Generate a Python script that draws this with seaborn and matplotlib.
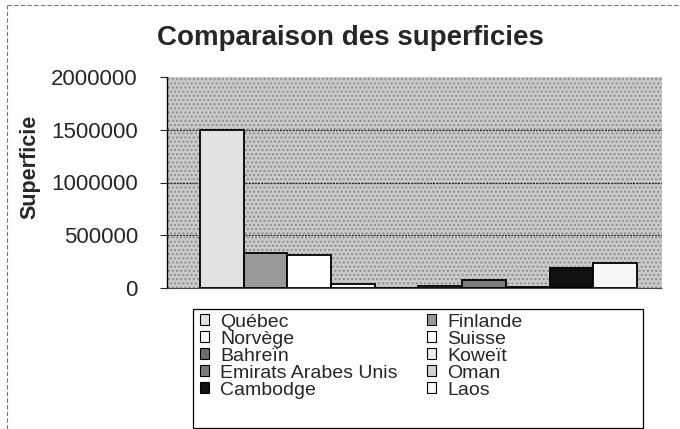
import pandas as pd
import numpy as np
import matplotlib.pyplot as plt
import seaborn as sns
from matplotlib.patches import Rectangle, Patch
from matplotlib.lines import Line2D

# data (km2)
pays = ["Québec", "Finlande", "Norvège", "Suisse", "Bahreïn",
        "Koweït", "Emirats Arabes Unis", "Oman", "Cambodge", "Laos"]
superficie = [1500000, 335000, 315000, 38000, 700,
              17800, 75000, 12000, 185000, 240000]
couleurs = ["#e2e2e2", "#9a9a9a", "#ffffff", "#ffffff", "#6e6e6e",
            "#ececec", "#7c7c7c", "#d2d2d2", "#111111", "#f6f6f6"]
yticks = [0, 500000, 1000000, 1500000, 2000000]

dataset = pd.DataFrame({"pays": pays, "superficie": superficie})

sns.set_style("white")
plt.rcParams['font.family'] = ['Liberation Sans', 'DejaVu Sans']

fig = plt.figure(figsize=(6.8, 4.29), dpi=100)
W, H = 680, 429
ax = fig.add_axes([167 / W, 1 - 288 / H, (662 - 167) / W, (288 - 77) / H])

# dotted grey plot area
ax.set_facecolor("#cacaca")
ax.add_patch(Rectangle((0, 0), 1, 1, transform=ax.transAxes, facecolor="none",
                       edgecolor="#8e8e8e", hatch="....", lw=0, zorder=0))

sns.barplot(data=dataset, x="pays", y="superficie", hue="pays",
            palette=dict(zip(pays, couleurs)), order=pays, width=1,
            edgecolor="black", linewidth=1.3, legend=False, ax=ax, zorder=3)

ax.set_xlim(-1.25, 10.07)
ax.set_ylim(0, 2000000)
ax.set_yticks(yticks)
ax.set_yticklabels([str(v) for v in yticks], fontsize=16)
ax.tick_params(axis="y", direction="out", length=5, width=0.8, pad=16, left=True)
ax.set_xticks([])
ax.set_xlabel("")
ax.set_ylabel("Superficie", fontsize=15.5, fontweight="bold")
ax.yaxis.set_label_coords(-0.255, 0.573)

for v in yticks[1:-1]:
    ax.axhline(v, color="#222222", lw=0.9, ls=(0, (1.5, 1)), zorder=1)

for s in ["top", "right"]:
    ax.spines[s].set_visible(False)
ax.spines["left"].set_color("black")
ax.spines["left"].set_linewidth(1)
ax.spines["bottom"].set_color("#444444")
ax.spines["bottom"].set_linestyle((0, (1, 1)))

fig.text(350 / W, 1 - 38 / H, "Comparaison des superficies", fontsize=20,
         fontweight="bold", ha="center", va="center")

# legend frame and entries (rows filled left to right like the original)
fig.patches.append(Rectangle((193 / W, 1 - 428 / H), (643 - 193) / W, (428 - 309) / H,
                             transform=fig.transFigure, facecolor="white",
                             edgecolor="black", lw=0.9, zorder=0))
handles = [Patch(facecolor=c, edgecolor="black", lw=0.8) for c in couleurs]
order = list(range(0, 10, 2)) + list(range(1, 10, 2))
fig.legend([handles[i] for i in order], [pays[i] for i in order],
           loc="upper left", bbox_to_anchor=(186 / W, 1 - 300 / H), ncol=2,
           frameon=False, fontsize=14, labelspacing=0, handlelength=0.5,
           handleheight=0.5, handletextpad=0.55, columnspacing=1.5, borderpad=0.2)

# dashed chart border
fig.add_artist(Line2D([7 / W, 1], [1 - 5 / H, 1 - 5 / H], transform=fig.transFigure,
                      color="#777777", lw=0.8, ls=(0, (4, 2))))
fig.add_artist(Line2D([7 / W, 7 / W], [0, 1 - 5 / H], transform=fig.transFigure,
                      color="#777777", lw=0.8, ls=(0, (4, 2))))

plt.savefig("out.png", dpi=100)
